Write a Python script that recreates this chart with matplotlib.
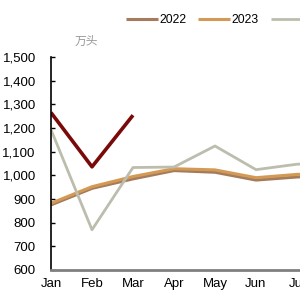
import matplotlib
matplotlib.use("Agg")
import matplotlib.pyplot as plt

months = ["Jan", "Feb", "Mar", "Apr", "May", "Jun", "Jul", "Aug", "Sep", "Oct", "Nov", "Dec"]
series_names = ["2022", "2023", "2024", "2025"]
v2022 = [875, 945, 985, 1020, 1013, 980, 993, 1000]
v2023 = [882, 952, 995, 1028, 1023, 990, 1004, 1010]
v2024 = [1193, 770, 1033, 1035, 1124, 1024, 1047, 1050]
v2025 = [1265, 1036, 1254]
yticks = [600, 700, 800, 900, 1000, 1100, 1200, 1300, 1400, 1500]
colors = ["#A57B5B", "#D39A55", "#BDBDAE", "#7A0A0A"]

plt.rcParams['font.family'] = ['Liberation Sans', 'Noto Sans CJK SC', 'DejaVu Sans']

fig = plt.figure(figsize=(3, 3), dpi=100)
ax = fig.add_axes([51/300, 0.1, 451/300, 0.71])

data = [v2022, v2023, v2024, v2025]
lws = [2.2, 2.2, 2.0, 2.6]
handles = []
for name, vals, c, lw in zip(series_names, data, colors, lws):
    h, = ax.plot(range(len(vals)), vals, color=c, lw=lw, label=name, solid_capstyle='butt')
    handles.append(h)

ax.set_xlim(0, 11)
ax.set_ylim(600, 1500)
ax.set_yticks(yticks)
ax.set_yticklabels([f"{v:,}" for v in yticks], fontsize=9.5)
ax.set_xticks(range(12))
ax.set_xticklabels(months, fontsize=9.5)
ax.tick_params(axis='x', length=0, pad=6)
ax.tick_params(axis='y', direction='in', length=3, width=1, pad=11)
for s in ['top', 'right']:
    ax.spines[s].set_visible(False)
ax.spines['left'].set_color('black')
ax.spines['left'].set_linewidth(1.2)
ax.spines['bottom'].set_color('#808080')
ax.spines['bottom'].set_linewidth(2)

fig.text(86/300, 1 - 42/300, "万头", fontsize=8.5, color='#999999', ha='center', va='center')

fig.legend(handles=handles, labels=series_names, loc='center left',
           bbox_to_anchor=(126/300, 1 - 20/300), ncol=4, frameon=False,
           fontsize=8.8, handlelength=2.6, handletextpad=0.1, columnspacing=1.0,
           borderaxespad=0, borderpad=0)

fig.savefig("out.png", dpi=100)
